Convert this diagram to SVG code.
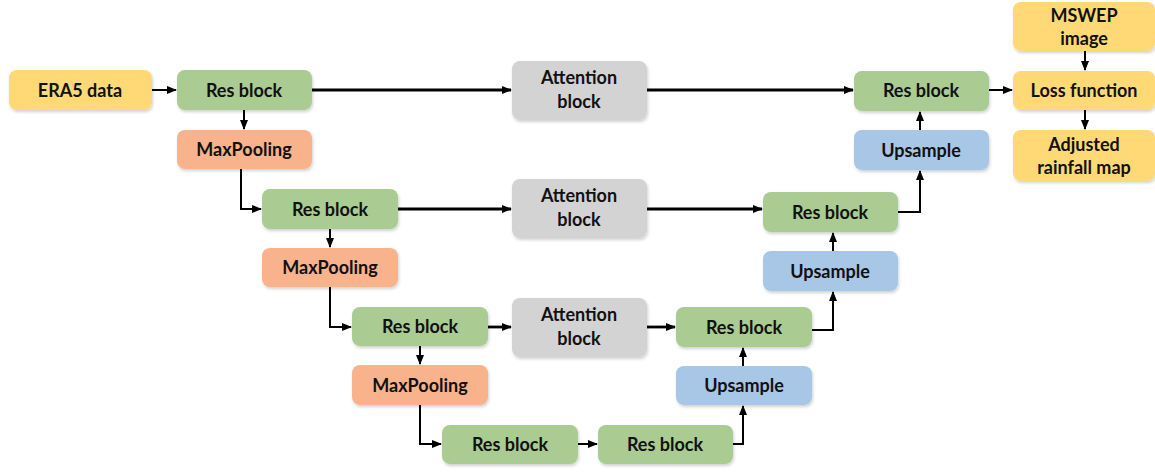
<svg xmlns="http://www.w3.org/2000/svg" width="1155" height="472" viewBox="0 0 1155 472">
<style>
.n rect{rx:8;ry:8;filter:url(#sh)}
.y rect{fill:#FFD976}
.g rect{fill:#AACB92}
.o rect{fill:#F8B28C}
.a rect{fill:#D3D3D3}
.b rect{fill:#A8C6E6}
text{font-family:Lato,"Open Sans","Liberation Sans",sans-serif;font-weight:bold;font-size:18px;fill:#111;text-anchor:middle}
#edges path{fill:none;stroke:#000;stroke-width:2}
#edges path.t{stroke-width:2.8}
</style>
<defs>
<filter id="sh" x="-10%" y="-10%" width="130%" height="140%"><feDropShadow dx="1" dy="2" stdDeviation="1.5" flood-color="#000" flood-opacity="0.18"/></filter>
<marker id="ah" markerWidth="10" markerHeight="8" refX="9" refY="4" orient="auto" markerUnits="userSpaceOnUse"><path d="M0,0 L10,4 L0,8 z" fill="#000"/></marker>
</defs>
<g id="edges">
<path d="M152,90 H176" marker-end="url(#ah)"/>
<path d="M244,110 V129" marker-end="url(#ah)"/>
<path class="t" d="M312,90 H511" marker-end="url(#ah)"/>
<path class="t" d="M647,90 H853" marker-end="url(#ah)"/>
<path d="M989,90 H1012" marker-end="url(#ah)"/>
<path d="M1085,51 V70" marker-end="url(#ah)"/>
<path d="M1085,110 V129" marker-end="url(#ah)"/>
<path d="M920,130 V112" marker-end="url(#ah)"/>
<path d="M241,169 V209 H261" marker-end="url(#ah)"/>
<path d="M330,229 V247" marker-end="url(#ah)"/>
<path class="t" d="M398,209 H511" marker-end="url(#ah)"/>
<path class="t" d="M647,209 H762" marker-end="url(#ah)"/>
<path d="M898,212 H920 V171" marker-end="url(#ah)"/>
<path d="M833,251 V233" marker-end="url(#ah)"/>
<path d="M330,287 V327 H351" marker-end="url(#ah)"/>
<path d="M420,346 V364" marker-end="url(#ah)"/>
<path class="t" d="M488,327 H511" marker-end="url(#ah)"/>
<path class="t" d="M647,327 H675" marker-end="url(#ah)"/>
<path d="M812,330 H833 V292" marker-end="url(#ah)"/>
<path d="M743,366 V348" marker-end="url(#ah)"/>
<path d="M420,405 V444 H441" marker-end="url(#ah)"/>
<path d="M578,444 H597" marker-end="url(#ah)"/>
<path d="M733,444 H743 V406" marker-end="url(#ah)"/>
</g>
<g id="era5" class="n y"><rect x="9" y="70" width="143" height="40"/><text x="80" y="97">ERA5 data</text></g>
<g id="res1" class="n g"><rect x="177" y="70" width="135" height="40"/><text x="244" y="97">Res block</text></g>
<g id="mp1" class="n o"><rect x="177" y="130" width="135" height="39"/><text x="244" y="156">MaxPooling</text></g>
<g id="att1" class="n a"><rect x="512" y="61" width="135" height="59"/><text x="579" y="84">Attention</text><text x="579" y="108">block</text></g>
<g id="res1r" class="n g"><rect x="854" y="71" width="135" height="40"/><text x="921" y="97">Res block</text></g>
<g id="up1" class="n b"><rect x="854" y="130" width="135" height="40"/><text x="921" y="157">Upsample</text></g>
<g id="mswep" class="n y"><rect x="1013" y="2" width="142" height="49"/><text x="1084" y="22">MSWEP</text><text x="1084" y="45">image</text></g>
<g id="loss" class="n y"><rect x="1013" y="71" width="142" height="39"/><text x="1084" y="97">Loss function</text></g>
<g id="adj" class="n y"><rect x="1013" y="130" width="142" height="51"/><text x="1084" y="151">Adjusted</text><text x="1084" y="174">rainfall map</text></g>
<g id="res2" class="n g"><rect x="262" y="189" width="136" height="40"/><text x="330" y="216">Res block</text></g>
<g id="mp2" class="n o"><rect x="262" y="248" width="136" height="39"/><text x="330" y="274">MaxPooling</text></g>
<g id="att2" class="n a"><rect x="512" y="179" width="135" height="59"/><text x="579" y="202">Attention</text><text x="579" y="226">block</text></g>
<g id="res2r" class="n g"><rect x="763" y="192" width="135" height="40"/><text x="830" y="219">Res block</text></g>
<g id="up2" class="n b"><rect x="763" y="251" width="135" height="40"/><text x="830" y="278">Upsample</text></g>
<g id="res3" class="n g"><rect x="352" y="307" width="136" height="39"/><text x="420" y="333">Res block</text></g>
<g id="att3" class="n a"><rect x="512" y="298" width="135" height="59"/><text x="579" y="321">Attention</text><text x="579" y="345">block</text></g>
<g id="res3r" class="n g"><rect x="676" y="307" width="136" height="40"/><text x="744" y="334">Res block</text></g>
<g id="up3" class="n b"><rect x="676" y="366" width="136" height="39"/><text x="744" y="392">Upsample</text></g>
<g id="mp3" class="n o"><rect x="352" y="365" width="136" height="40"/><text x="420" y="392">MaxPooling</text></g>
<g id="res4" class="n g"><rect x="442" y="425" width="136" height="39"/><text x="510" y="451">Res block</text></g>
<g id="res5" class="n g"><rect x="598" y="425" width="135" height="39"/><text x="665" y="451">Res block</text></g>
</svg>
